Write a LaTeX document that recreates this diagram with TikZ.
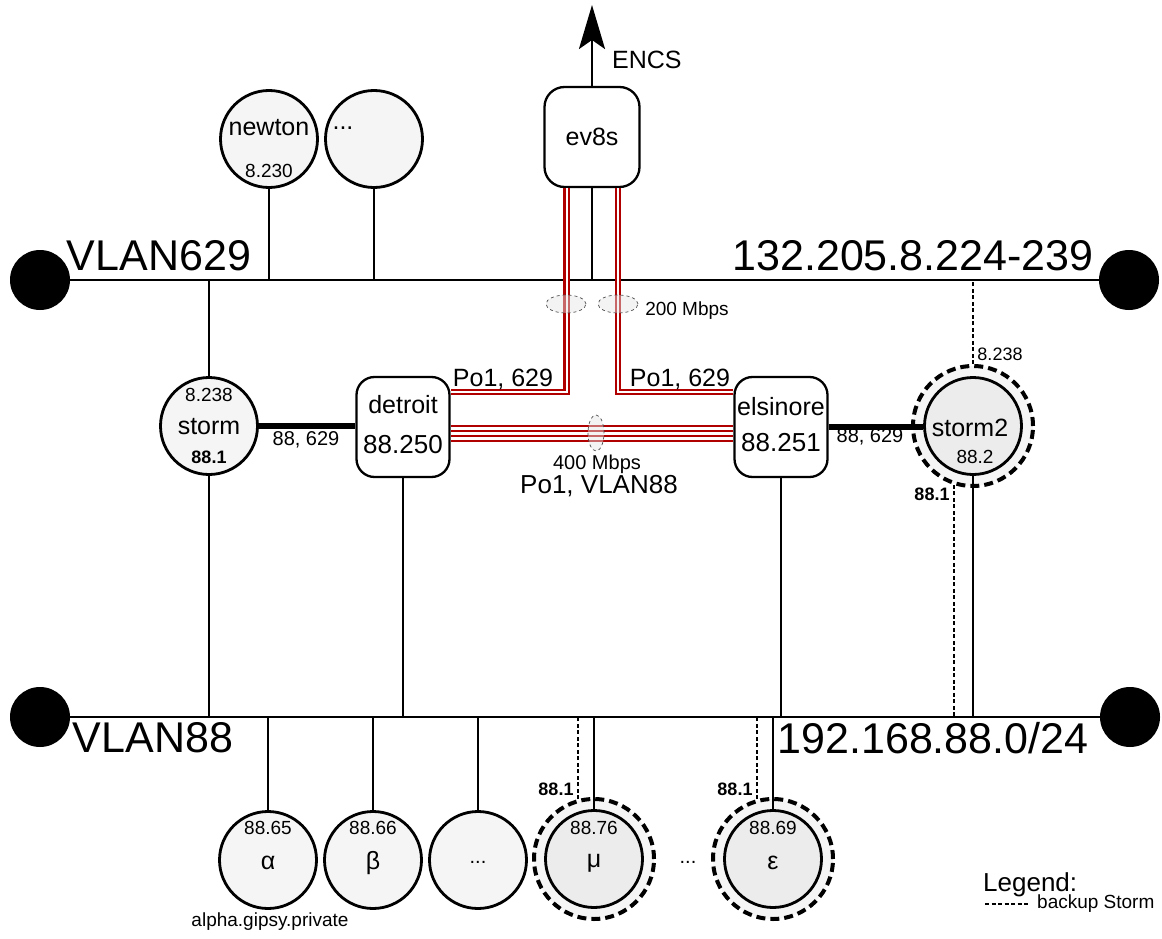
\documentclass[tikz,border=0pt]{standalone}
\usepackage{fontspec}
\setmainfont{Liberation Sans}
\usetikzlibrary{arrows.meta,calc,shapes.geometric}
\definecolor{lnk}{HTML}{B00000}
\definecolor{hostfill}{HTML}{F5F5F5}
\definecolor{bkfill}{HTML}{ECECEC}
\newcommand{\fsz}[1]{\fontsize{#1}{#1}\selectfont}
\begin{document}
\begin{tikzpicture}[x=1pt,y=-1pt,
  bus/.style={line width=2.6pt},
  busdot/.style={circle, fill=black, minimum size=60pt, inner sep=0pt},
  conn/.style={line width=2.1pt},
  host/.style={circle, draw, line width=2.8pt, fill=hostfill, minimum size=97pt, inner sep=0pt},
  bkring/.style={circle, draw, line width=4pt, dash pattern=on 9pt off 5pt, fill=hostfill, minimum size=120pt, inner sep=0pt},
  swbox/.style={draw, line width=2.3pt, rounded corners=18pt, fill=white, minimum width=93pt, minimum height=100pt, inner sep=0pt},
  bkline/.style={line width=2.1pt, dash pattern=on 4pt off 2.5pt},
  trunk/.style={line width=5.5pt},
  rl/.style={draw=lnk, line width=2.1pt, double=white, double distance=2pt},
  rs/.style={draw=lnk, line width=2.3pt},
  bw/.style={draw=gray!60!black, dashed, line width=0.7pt, ellipse, fill=gray!20, fill opacity=0.45, inner sep=0pt},
  txt/.style={inner sep=0pt}
]
\useasboundingbox (0,0) rectangle (1162,939);

% bus dots
\node[busdot] (d1L) at (40,280) {};
\node[busdot] (d1R) at (1129,280) {};
\node[busdot] (d2L) at (40,717) {};
\node[busdot] (d2R) at (1130,717) {};
\draw[bus] (d1L) -- (d1R);
\draw[bus] (d2L) -- (d2R);

% bus labels
\node[txt,font=\fsz{43}] (vlan629) at (159,256) {VLAN629};
\node[txt,font=\fsz{43}] (net629) at (913,256) {132.205.8.224-239};
\node[txt,font=\fsz{43}] (vlan88) at (153,738) {VLAN88};
\node[txt,font=\fsz{43}] (net88) at (933,738) {192.168.88.0/24};

% top hosts
\node[host] (newton) at (269,139) {};
\node[txt,font=\fsz{25}] (newtonT) at (269,128) {newton};
\node[txt,font=\fsz{19}] (newtonI) at (269,171) {8.230};
\node[host] (h1) at (374,139) {};
\node[txt,font=\fsz{25}] (h1T) at (343,128) {...};
\draw[conn] (newton) -- (newton |- d1L);
\draw[conn] (h1) -- (h1 |- d1L);

% ev8s
\node[swbox, minimum width=95pt, minimum height=100pt, rounded corners=20pt, font=\fsz{25}] (ev8s) at (592,137) {ev8s};
\coordinate (encs) at (592,5);
\draw[line width=2.5pt, -{Stealth[length=44pt,width=26pt,inset=9pt]}] (ev8s.north) -- (encs);
\node[txt,font=\fsz{25},anchor=west] (encsT) at (612,60) {ENCS};
\draw[conn] (ev8s.south) -- (ev8s.south |- d1L);

% switches
\node[swbox] (detroit) at (403,427) {};
\node[txt,font=\fsz{25}] (detroitT) at (403,405) {detroit};
\node[txt,font=\fsz{26}] (detroitI) at (403,445) {88.250};
\node[swbox] (elsinore) at (781,427) {};
\node[txt,font=\fsz{25}] (elsinoreT) at (781,407) {elsinore};
\node[txt,font=\fsz{26}] (elsinoreI) at (781,443) {88.251};

% red port-channels
\draw[rl] ([xshift=-25.5pt]ev8s.south) |- ([yshift=35pt]detroit.east);
\draw[rl] ([xshift=26pt]ev8s.south) |- ([yshift=35pt]elsinore.west);
\draw[rs] ([yshift=1pt]detroit.east) -- ([yshift=1pt]elsinore.west);
\draw[rs] ([yshift=-4pt]detroit.east) -- ([yshift=-4pt]elsinore.west);
\draw[rs] ([yshift=-9pt]detroit.east) -- ([yshift=-9pt]elsinore.west);
\draw[rs] ([yshift=-14pt]detroit.east) -- ([yshift=-14pt]elsinore.west);
\node[bw, minimum width=40pt, minimum height=18pt] (e200a) at (566,304) {};
\node[bw, minimum width=40pt, minimum height=18pt] (e200b) at (618,304) {};
\node[txt,font=\fsz{19}] (l200) at (687,311) {200 Mbps};
\node[bw, minimum width=16pt, minimum height=36pt] (e400) at (596,433) {};
\node[txt,font=\fsz{20}] (l400) at (597,464) {400 Mbps};
\node[txt,font=\fsz{26}] (lpo88) at (599,486) {Po1, VLAN88};
\node[txt,font=\fsz{25}] (lpoL) at (503,379) {Po1, 629};
\node[txt,font=\fsz{25}] (lpoR) at (680,379) {Po1, 629};

% storm
\node[host] (storm) at (209,426) {};
\node[txt,font=\fsz{19}] (stormA) at (209,395) {8.238};
\node[txt,font=\fsz{25}] (stormT) at (209,427) {storm};
\node[txt,font=\fsz{18}\bfseries] (stormB) at (209,457) {88.1};
\draw[conn] (storm) -- (storm |- d1L);
\draw[conn] (storm) -- (storm |- d2L);
\draw[trunk] (storm.east) -- (storm.east -| detroit.west);
\node[txt,font=\fsz{20}] (lsd) at (306,440) {88, 629};

\draw[conn] (detroit.south) -- (detroit.south |- d2L);
\draw[conn] (elsinore.south) -- (elsinore.south |- d2L);

% storm2
\node[bkring] (s2o) at (973,426) {};
\node[host, fill=bkfill] (storm2) at (973,426) {};
\node[txt,font=\fsz{25}] (storm2T) at (970,428) {storm2};
\node[txt,font=\fsz{19}] (storm2I) at (975,457) {88.2};
\draw[trunk] (elsinore.east) -- (elsinore.east -| storm2.west);
\node[txt,font=\fsz{20}] (les) at (870,437) {88, 629};
\draw[bkline] (s2o.north) -- (s2o.north |- d1R);
\node[txt,font=\fsz{18}] (s2A) at (1000,354) {8.238};
\draw[conn] (storm2.south) -- (storm2.south |- d2R);
\draw[bkline] (s2o.-108) -- (s2o.-108 |- d2R);
\node[txt,font=\fsz{18}\bfseries] (s2B) at (932,494) {88.1};

% bottom hosts
\node[host] (alpha) at (268,860) {};
\node[txt,font=\fsz{19}] (alphaI) at (268,828) {88.65};
\node[txt,font=\fsz{25}] (alphaT) at (268,863) {α};
\node[txt,font=\fsz{19}] (alphaN) at (270,922) {alpha.gipsy.private};
\node[host] (beta) at (373,860) {};
\node[txt,font=\fsz{19}] (betaI) at (373,828) {88.66};
\node[txt,font=\fsz{25}] (betaT) at (373,863) {β};
\node[host] (h2) at (478,860) {};
\node[txt,font=\fsz{20}] (h2T) at (478,862) {...};
\draw[conn] (alpha) -- (alpha |- d2L);
\draw[conn] (beta) -- (beta |- d2L);
\draw[conn] (h2) -- (h2 |- d2L);

\node[bkring] (muo) at (594,859) {};
\node[host, fill=bkfill] (mu) at (594,859) {};
\node[txt,font=\fsz{19}] (muI) at (594,828) {88.76};
\node[txt,font=\fsz{25}] (muT) at (594,863) {μ};
\draw[conn] (mu) -- (mu |- d2L);
\draw[bkline] (muo.105) -- (muo.105 |- d2L);
\node[txt,font=\fsz{18}\bfseries] (muB) at (556,789) {88.1};

\node[txt,font=\fsz{20}] (dots) at (688,862) {...};

\node[bkring] (epso) at (773,859) {};
\node[host, fill=bkfill] (eps) at (773,859) {};
\node[txt,font=\fsz{19}] (epsI) at (773,828) {88.69};
\node[txt,font=\fsz{25}] (epsT) at (773,863) {ε};
\draw[conn] (eps) -- (eps |- d2L);
\draw[bkline] (epso.105) -- (epso.105 |- d2L);
\node[txt,font=\fsz{18}\bfseries] (epsB) at (735,789) {88.1};

% legend
\node[txt,font=\fsz{26},anchor=west] (legT) at (983,885) {Legend:};
\coordinate (lgA) at (985,904);
\coordinate (lgB) at (1029,904);
\draw[bkline, line width=2.4pt] (lgA) -- (lgB);
\node[txt,font=\fsz{19},anchor=west] (legB) at (1037,904) {backup Storm};
\end{tikzpicture}
\end{document}
